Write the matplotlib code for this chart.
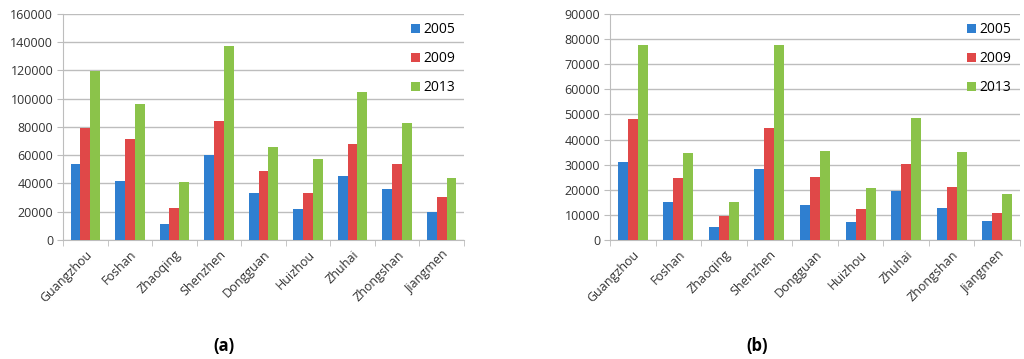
import numpy as np
import matplotlib.pyplot as plt

# cities and yearly values
cities = ['Guangzhou', 'Foshan', 'Zhaoqing', 'Shenzhen', 'Dongguan',
          'Huizhou', 'Zhuhai', 'Zhongshan', 'Jiangmen']
years = ['2005', '2009', '2013']

a_2005 = [53600, 41800, 11500, 60400, 33000, 21700, 45500, 36100, 19600]
a_2009 = [79500, 71300, 22400, 84000, 48800, 33000, 68000, 54000, 30400]
a_2013 = [119900, 96300, 41300, 137100, 65600, 57100, 104500, 83000, 44100]

b_2005 = [30900, 15100, 5000, 28300, 14100, 7200, 19500, 12600, 7600]
b_2009 = [48200, 24800, 9700, 44700, 25000, 12300, 30400, 21100, 10600]
b_2013 = [77500, 34600, 15100, 77500, 35600, 20800, 48600, 35000, 18300]

colors = ['#2f7fd0', '#e04848', '#8bc34a']
grid_col = '#bdbdbd'

plt.rcParams['font.family'] = ['Open Sans', 'DejaVu Sans']

fig = plt.figure(figsize=(10.24, 3.59), dpi=100)


def panel(rect, series, ymax, step, label, label_x):
    ax = fig.add_axes(rect)
    x = np.arange(len(cities))
    w = 0.22
    for i, (vals, c, yr) in enumerate(zip(series, colors, years)):
        ax.bar(x + (i - 1) * w, vals, width=w, color=c, label=yr, zorder=3)
    ax.set_xlim(-0.5, len(cities) - 0.5)
    ax.set_ylim(0, ymax)
    ax.set_yticks(np.arange(0, ymax + 1, step))
    ax.yaxis.grid(True, color=grid_col, linewidth=1, zorder=0)
    for s in ['top', 'right']:
        ax.spines[s].set_visible(False)
    for s in ['left', 'bottom']:
        ax.spines[s].set_color(grid_col)
    ax.set_xticks(x)
    ax.set_xticklabels(cities, rotation=45, ha='right', rotation_mode='anchor',
                       fontsize=9, color='#333333')
    ax.set_xticks(np.arange(-0.5, len(cities)), minor=True)
    ax.tick_params(axis='x', which='major', length=0, pad=6)
    ax.tick_params(axis='x', which='minor', length=4, color=grid_col)
    ax.tick_params(axis='y', length=4, color=grid_col, labelsize=9,
                   labelcolor='#333333', pad=3)
    ax.legend(loc='upper right', frameon=False, fontsize=10,
              handlelength=0.65, handleheight=0.65, handletextpad=0.3,
              labelspacing=1.0, borderaxespad=0.2, bbox_to_anchor=(1.0, 1.0))
    fig.text(label_x, 0.035, label, ha='center', va='center',
             fontsize=12, fontweight='bold')
    return ax


panel([0.0615, 0.3315, 0.3916, 0.6295], [a_2005, a_2009, a_2013],
      160000, 20000, '(a)', 0.219)
panel([0.5957, 0.3315, 0.4004, 0.6295], [b_2005, b_2009, b_2013],
      90000, 10000, '(b)', 0.739)

fig.savefig('out.png', dpi=100)
